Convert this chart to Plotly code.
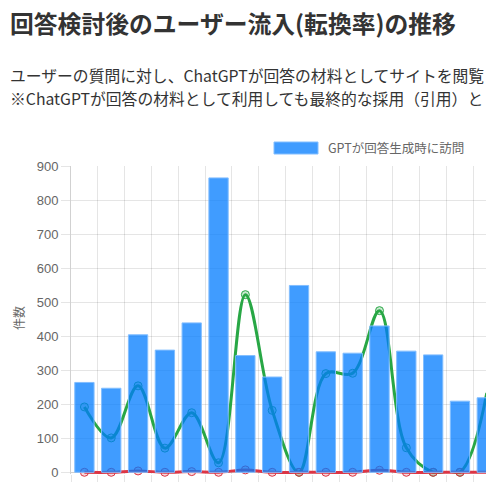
import plotly.graph_objects as go

# ---- data ----
categories = [str(i) for i in range(1, 17)]
visits = [264, 247, 404, 359, 439, 865, 343, 280, 549, 354, 350, 430, 356, 345, 209, 219]
inflow = [192, 101, 254, 71, 175, 28, 522, 182, 0, 290, 291, 475, 72, 0, 0, 233]
conversion = [0, 0, 4, 0, 2, 0, 7, 0, 0, 0, 0, 6, 0, 0, 0, 0]

title_text = "回答検討後のユーザー流入(転換率)の推移"
sub1 = "ユーザーの質問に対し、ChatGPTが回答の材料としてサイトを閲覧"
sub2 = "※ChatGPTが回答の材料として利用しても最終的な採用（引用）と"
legend_bar = "GPTが回答生成時に訪問"
y_title = "件数"

W, H = 486, 487
ML, MR, MT, MB = 71, 0, 166, 13
PW, PH = W - ML - MR, H - MT - MB


def px(x):
    return (x - ML) / PW


def py(y):
    return (H - MB - y) / PH


GRID = "rgba(0,0,0,0.1)"
JP = "Noto Sans CJK JP"

fig = go.Figure()

fig.add_trace(go.Scatter(
    x=categories, y=inflow, mode="lines+markers", yaxis="y",
    line=dict(color="#28a745", width=3, shape="spline", smoothing=1.0),
    marker=dict(size=8, color="rgba(40,167,69,0.25)", line=dict(color="#28a745", width=1)),
    showlegend=False, cliponaxis=False,
))
fig.add_trace(go.Scatter(
    x=categories, y=conversion, mode="lines+markers", yaxis="y",
    line=dict(color="#dc3545", width=3, shape="spline", smoothing=1.0),
    marker=dict(size=8, color="rgba(220,53,69,0.2)", line=dict(color="#dc3545", width=1)),
    showlegend=False, cliponaxis=False,
))
fig.add_trace(go.Bar(
    x=categories, y=visits, yaxis="y2", width=0.72,
    marker=dict(color="rgba(0,123,255,0.75)", line=dict(color="rgba(130,190,255,1)", width=1)),
    showlegend=False,
))

yrange = [-5, 900]
fig.update_layout(
    width=W, height=H,
    margin=dict(l=ML, r=MR, t=MT, b=MB, autoexpand=False),
    paper_bgcolor="white", plot_bgcolor="white",
    showlegend=False,
    xaxis=dict(
        type="category", range=[-0.5, 14.97], tickson="boundaries",
        showgrid=True, gridcolor=GRID, gridwidth=1,
        ticks="outside", ticklen=7, tickcolor=GRID,
        showline=False, zeroline=False, showticklabels=False,
    ),
    yaxis=dict(
        range=yrange, tick0=0, dtick=100,
        showgrid=True, gridcolor=GRID, gridwidth=1,
        zeroline=True, zerolinecolor="rgba(0,0,0,0.18)", zerolinewidth=1,
        ticks="outside", ticklen=9, tickcolor=GRID,
        showline=True, linecolor="rgba(0,0,0,0.18)", linewidth=1,
        tickfont=dict(family="Liberation Sans", size=13, color="#666"),
    ),
    yaxis2=dict(
        range=yrange, overlaying="y", side="left",
        showgrid=False, zeroline=False, showticklabels=False, showline=False, ticks="",
    ),
    bargap=0.28,
)

ann = [
    dict(text="<b>" + title_text + "</b>", x=px(8), y=py(22), xanchor="left", yanchor="middle",
         font=dict(family=JP, size=23.8, color="#333")),
    dict(text=sub1, x=px(8), y=py(75), xanchor="left", yanchor="middle",
         font=dict(family=JP, size=15.8, color="#333")),
    dict(text=sub2, x=px(8), y=py(98), xanchor="left", yanchor="middle",
         font=dict(family=JP, size=15.8, color="#333")),
    dict(text=legend_bar, x=px(326), y=py(148), xanchor="left", yanchor="middle",
         font=dict(family=JP, size=12.5, color="#666")),
    dict(text=y_title, x=px(18), y=py(318), xanchor="center", yanchor="middle", textangle=-90,
         font=dict(family=JP, size=12, color="#666")),
]
for a in ann:
    a.update(xref="paper", yref="paper", showarrow=False)
fig.update_layout(annotations=ann)

fig.add_shape(type="rect", xref="paper", yref="paper",
              x0=px(274), x1=px(318), y0=py(154), y1=py(142),
              fillcolor="rgba(0,123,255,0.75)", line=dict(color="rgba(130,190,255,1)", width=1))

fig.write_html("out.html", config={"displayModeBar": False},
               post_script="document.body.style.margin='0';document.body.style.overflow='hidden';")
